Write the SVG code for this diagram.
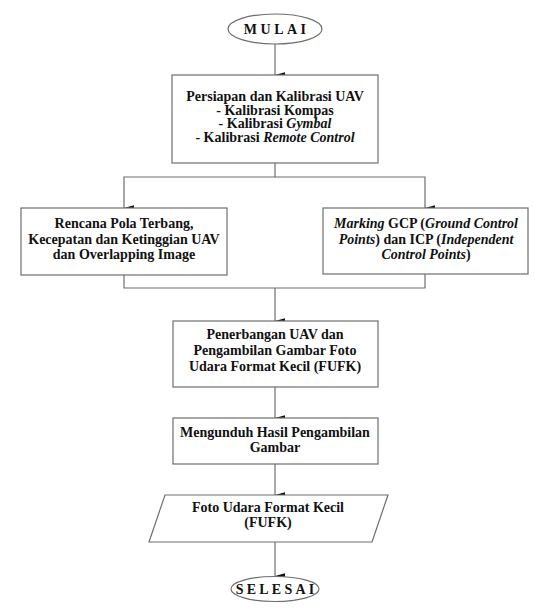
<svg xmlns="http://www.w3.org/2000/svg" width="535" height="608" viewBox="0 0 535 608">
<defs>
<marker id="arr" markerUnits="userSpaceOnUse" markerWidth="6" markerHeight="10" viewBox="0 0 6 10" refX="3" refY="10" orient="auto-start-reverse">
<path d="M0.3,0 L5.7,0 L3,10 Z" fill="#111"/>
</marker>
<style>
.bx{fill:#fff;stroke:#6e6e6e;stroke-width:1.2}
.ln{fill:none;stroke:#6e6e6e;stroke-width:1.2}
.t{font-family:"Liberation Serif","Times New Roman",serif;font-size:14px;font-weight:bold;fill:#111;text-anchor:middle}
.i{font-style:italic}
.term{font-family:"Liberation Serif","Times New Roman",serif;font-size:14px;font-weight:bold;fill:#111;text-anchor:middle}
</style>
</defs>
<rect width="535" height="608" fill="#fff"/>
<g id="connectors">
<line class="ln" x1="275" y1="44" x2="275" y2="75" marker-end="url(#arr)"/>
<polyline class="ln" points="275,163 275,177 124,177 124,208" marker-end="url(#arr)"/>
<polyline class="ln" points="275,177 425,177 425,208" marker-end="url(#arr)"/>
<polyline class="ln" points="124,275 124,288 425,288 425,274"/>
<line class="ln" x1="275" y1="288" x2="275" y2="321" marker-end="url(#arr)"/>
<line class="ln" x1="275" y1="387" x2="275" y2="418" marker-end="url(#arr)"/>
<line class="ln" x1="275" y1="464" x2="275" y2="495" marker-end="url(#arr)"/>
<line class="ln" x1="275" y1="542" x2="275" y2="576" marker-end="url(#arr)"/>
</g>
<g id="mulai">
<ellipse class="bx" cx="275" cy="29" rx="47" ry="15"/>
<text class="term" x="276.7" y="34" letter-spacing="3.5">MULAI</text>
</g>
<g id="persiapan">
<rect class="bx" x="172" y="75" width="206" height="88"/>
<text class="t" x="275" y="101">Persiapan dan Kalibrasi UAV</text>
<text class="t" x="275" y="114.5">- Kalibrasi Kompas</text>
<text class="t" x="275" y="128">- Kalibrasi <tspan class="i">Gymbal</tspan></text>
<text class="t" x="275" y="142">- Kalibrasi <tspan class="i">Remote Control</tspan></text>
</g>
<g id="rencana">
<rect class="bx" x="21" y="208" width="206" height="67"/>
<text class="t" x="124" y="228">Rencana Pola Terbang,</text>
<text class="t" x="124" y="244">Kecepatan dan Ketinggian UAV</text>
<text class="t" x="124" y="259">dan Overlapping Image</text>
</g>
<g id="marking">
<rect class="bx" x="323" y="208" width="205" height="66"/>
<text class="t" x="426" y="228"><tspan class="i">Marking</tspan> GCP (<tspan class="i">Ground Control</tspan></text>
<text class="t" x="426" y="244"><tspan class="i">Points</tspan>) dan ICP (<tspan class="i">Independent</tspan></text>
<text class="t" x="426" y="259"><tspan class="i">Control Points</tspan>)</text>
</g>
<g id="penerbangan">
<rect class="bx" x="173" y="321" width="205" height="66"/>
<text class="t" x="275" y="339">Penerbangan UAV dan</text>
<text class="t" x="275" y="355">Pengambilan Gambar Foto</text>
<text class="t" x="275" y="371">Udara Format Kecil (FUFK)</text>
</g>
<g id="mengunduh">
<rect class="bx" x="173" y="418" width="205" height="46"/>
<text class="t" x="275" y="437">Mengunduh Hasil Pengambilan</text>
<text class="t" x="275" y="452">Gambar</text>
</g>
<g id="foto">
<polygon class="bx" points="165,495 388,495 372,542 149,542"/>
<text class="t" x="268" y="512">Foto Udara Format Kecil</text>
<text class="t" x="268" y="527">(FUFK)</text>
</g>
<g id="selesai">
<ellipse class="bx" cx="275" cy="589" rx="44" ry="12.5"/>
<text class="term" x="276.6" y="594" letter-spacing="3.2">SELESAI</text>
</g>
</svg>
